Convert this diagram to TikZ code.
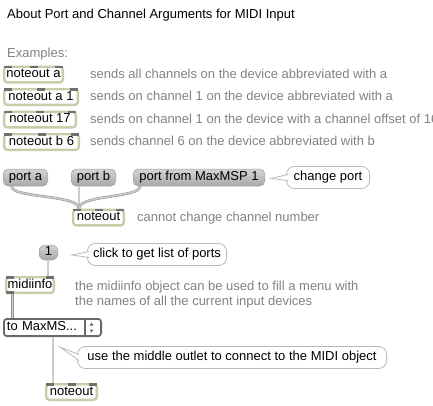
\documentclass[tikz,border=0pt]{standalone}
\usepackage{fontspec}
\setmainfont{Liberation Sans}
\definecolor{objline}{RGB}{198,205,168}
\definecolor{portgray}{RGB}{112,112,112}
\definecolor{notegray}{RGB}{130,130,130}
\definecolor{msgtop}{RGB}{212,212,212}
\definecolor{msgbot}{RGB}{168,168,168}
\definecolor{msgline}{RGB}{160,160,160}
\definecolor{bubline}{RGB}{185,185,185}
\definecolor{menuline}{RGB}{105,105,105}
\definecolor{cordout}{RGB}{150,150,150}
\definecolor{cordin}{RGB}{205,205,205}
\begin{document}
\begin{tikzpicture}[x=1pt, y=-1pt,
  every node/.style={font=\fontsize{13}{15}\selectfont, inner sep=0pt},
  obj/.style={draw=objline, line width=2.4pt, rounded corners=3pt, fill=white,
    minimum height=15.6pt, anchor=west, text height=9.3pt, text depth=2.7pt},
  msg/.style={draw=msgline, line width=.5pt, rounded corners=5pt, top color=msgtop,
    bottom color=msgbot, minimum height=17pt, anchor=west, text height=9.3pt, text depth=2.7pt},
  bubble/.style={draw=bubline, line width=.8pt, rounded corners=8pt, fill=white,
    minimum height=22pt, anchor=west, text height=9.3pt, text depth=2.7pt},
  menu/.style={draw=menuline, line width=1.8pt, rounded corners=3pt, fill=white,
    minimum height=17.2pt, anchor=west, text width=91.2pt, inner xsep=3pt, align=left,
    text height=9.3pt, text depth=2.7pt},
  note/.style={text=notegray, anchor=base west},
  tail/.style={fill=white, draw=bubline, line width=.8pt},
  port/.style={fill=portgray},
  cord/.style={draw=cordout, line width=.6pt, double=cordin, double distance=1.4pt}]
\path[use as bounding box, clip] (0,0) rectangle (433,405);

\node[anchor=base west] (title) at (7,18) {About Port and Channel Arguments for MIDI Input};
\node[note] (ex) at (7,57) {Examples:};

\node[obj, minimum width=58.6pt] (nta) at (3,74.5) {noteout a};
\node[obj, minimum width=73.6pt] (ntb) at (3,97) {noteout a 1};
\node[obj, minimum width=71.6pt] (ntc) at (3,119.5) {noteout 17};
\node[obj, minimum width=74.6pt] (ntd) at (3,142) {noteout b 6};
\node[note] (nta-x) at (90,78.2) {sends all channels on the device abbreviated with a};
\node[note] (ntb-x) at (90,100.7) {sends on channel 1 on the device abbreviated with a};
\node[note] (ntc-x) at (90,123.2) {sends on channel 1 on the device with a channel offset of 16};
\node[note] (ntd-x) at (90,145.7) {sends channel 6 on the device abbreviated with b};

\node[msg, minimum width=44.5pt] (pa) at (3,177.5) {port a};
\node[msg, minimum width=44.5pt] (pb) at (71,177.5) {port b};
\node[msg, minimum width=131.5pt] (pm) at (133,177.5) {port from MaxMSP 1};
\node[bubble, minimum width=83.2pt] (cp) at (286,177.5) {change port};
\node[obj, minimum width=50.6pt] (nt) at (72,217.5) {noteout};
\node[note] (nt-x) at (137,221.2) {cannot change channel number};

\node[msg, minimum width=18.5pt, minimum height=15pt, rounded corners=6pt] (one) at (39,252.5) {1};
\node[bubble, minimum width=139.2pt] (cl) at (87,254.5) {click to get list of ports};
\node[obj, minimum width=47.6pt] (mi) at (5,285) {midiinfo};
\node[note, align=left] (mi-x) at (75,305) {the midiinfo object can be used to fill a menu with\\the names of all the current input devices};
\node[menu] (um) at (3,327.5) {to MaxMS...};
\node[bubble, minimum width=309.2pt] (us) at (77,357.5) {use the middle outlet to connect to the MIDI object};
\node[obj, minimum width=50.6pt] (nb) at (45,392) {noteout};

\coordinate (cp-tip) at (271,178.5);
\coordinate (cl-tip) at (72,255);
\coordinate (us-tip) at (60,347);
\filldraw[tail] ([shift={(2,-3)}]cp.west) -- (cp-tip) -- ([shift={(2,3)}]cp.west);
\filldraw[tail] ([shift={(2,-3)}]cl.west) -- (cl-tip) -- ([shift={(2,3)}]cl.west);
\filldraw[tail] ([shift={(2,-3)}]us.west) -- (us-tip) -- ([shift={(2,3)}]us.west);

\draw[menuline, line width=1.2pt] ([xshift=-17pt]um.north east) -- ([xshift=-17pt]um.south east);
\fill[menuline] ([shift={(-10.5,-5)}]um.east) -- ++(2,3) -- ++(-4,0) -- cycle;
\fill[menuline] ([shift={(-10.5,5)}]um.east) -- ++(2,-3) -- ++(-4,0) -- cycle;

\coordinate (nt-in) at ([xshift=7pt]nt.north west);
\coordinate (mi-in) at ([xshift=-7pt]mi.north east);
\coordinate (mi-out) at ([xshift=7.5pt]mi.south west);
\coordinate (nb-in) at ([xshift=8pt]nb.north west);
\draw[cord] ([xshift=8.5pt]pa.south west) .. controls +(0,12) and +(0,-14) .. (nt-in);
\draw[cord] ([xshift=8pt]pb.south west) -- (nt-in);
\draw[cord] ([xshift=7pt]pm.south west) .. controls +(0,12) and +(0,-14) .. (nt-in);
\draw[cord] (mi-in |- one.south) -- (mi-in);
\draw[cord] (mi-out) -- (mi-out |- um.north);
\draw[cord] (nb-in |- um.south) -- (nb-in);

\foreach \n in {nta,ntb,ntc,ntd,nt,nb}{
  \fill[port] ([xshift=1pt]\n.north west) rectangle ++(8,2.6);
  \fill[port] ([xshift=-4pt]\n.north) rectangle ++(8,2.6);
  \fill[port] ([xshift=-9pt]\n.north east) rectangle ++(8,2.6);
}
\fill[port] ([xshift=1pt]mi.north west) rectangle ++(8,2.6);
\fill[port] ([xshift=-9pt]mi.north east) rectangle ++(8,2.6);
\fill[port] ([xshift=1pt]mi.south west) rectangle ++(8,-2.6);
\end{tikzpicture}
\end{document}
